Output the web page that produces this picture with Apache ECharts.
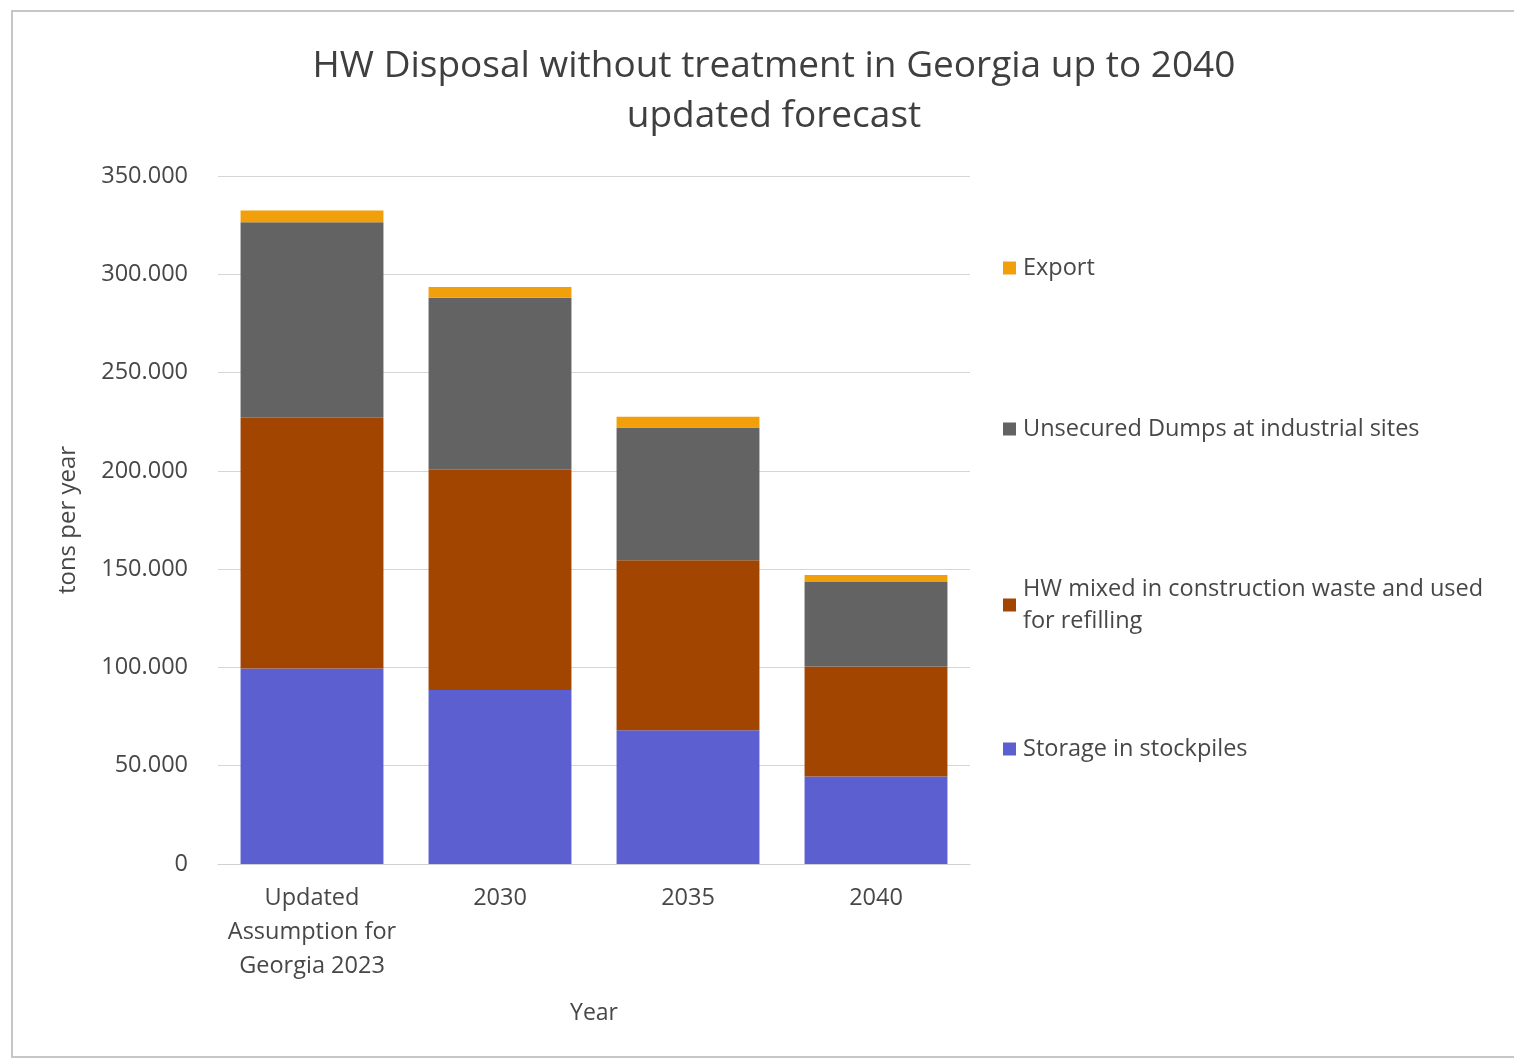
<!DOCTYPE html>
<html>
<head>
<meta charset="utf-8">
<title>HW Disposal without treatment in Georgia up to 2040</title>
<script src="https://cdn.jsdelivr.net/npm/echarts@6/dist/echarts.min.js"></script>
<style>
  html, body { margin: 0; padding: 0; background: #ffffff; }
  #chart { width: 1514px; height: 1061px; }
</style>
</head>
<body>
<div id="chart"></div>
<script>
// Categories on the x axis
const categories = ['Updated\nAssumption for\nGeorgia 2023', '2030', '2035', '2040'];

// Disposal paths, tons per year (stacked bottom to top)
const storageInStockpiles = [99500, 88500, 68000, 44500];
const hwMixedConstruction = [127500, 112000, 86500, 56000];
const unsecuredDumps = [99500, 87500, 67500, 43000];
const exportTons = [6000, 5500, 5500, 3500];

// Value axis ticks
const yTicks = [0, 50000, 100000, 150000, 200000, 250000, 300000, 350000];

const seriesNames = {
  storage: 'Storage in stockpiles',
  mixed: 'HW mixed in construction waste and used for refilling',
  dumps: 'Unsecured Dumps at industrial sites',
  export: 'Export'
};

const colors = {
  storage: '#5b5fd0',
  mixed: '#a14500',
  dumps: '#636363',
  export: '#f19f0a'
};

const FONT = '"Open Sans", "Noto Sans", sans-serif';
const TEXT_COLOR = '#474747';

function fmtThousands(v) {
  if (v === 0) return '0';
  return String(v).replace(/\B(?=(\d{3})+(?!\d))/g, '.');
}

function legendBlock(name, top) {
  return {
    data: [{ name: name, icon: 'rect' }],
    orient: 'vertical',
    left: 998,
    top: top,
    itemWidth: 13,
    itemHeight: 13,
    itemGap: 0,
    selectedMode: false,
    formatter: function (n) {
      return n === seriesNames.mixed
        ? 'HW mixed in construction waste and used\nfor refilling'
        : n;
    },
    textStyle: {
      fontFamily: FONT,
      fontSize: 23.5,
      color: TEXT_COLOR,
      lineHeight: 32,
      padding: [0, 0, 0, 2]
    }
  };
}

const chart = echarts.init(document.getElementById('chart'), null, { renderer: 'canvas' });

function barSeries(name, data, color) {
  return {
    name: name,
    type: 'bar',
    stack: 'total',
    data: data,
    barCategoryGap: '24%',
    itemStyle: { color: color },
    emphasis: { disabled: true }
  };
}

chart.setOption({
  backgroundColor: '#ffffff',
  animation: false,
  title: {
    text: 'HW Disposal without treatment in Georgia up to 2040\nupdated forecast',
    left: 769,
    textAlign: 'center',
    top: 36,
    textStyle: {
      fontFamily: FONT,
      fontSize: 37,
      fontWeight: 'normal',
      color: '#3f3f3f',
      lineHeight: 50
    }
  },
  graphic: [{
    type: 'rect',
    shape: { x: 12, y: 11, width: 1520, height: 1046 },
    style: { fill: 'none', stroke: '#c6c6c6', lineWidth: 2 },
    silent: true,
    z: -10
  }],
  legend: [
    legendBlock(seriesNames.export, 247),
    legendBlock(seriesNames.dumps, 408),
    legendBlock(seriesNames.mixed, 568),
    legendBlock(seriesNames.storage, 728)
  ],
  grid: {
    left: 218,
    right: 544,
    top: 176,
    bottom: 197,
    containLabel: false
  },
  xAxis: {
    type: 'category',
    data: categories,
    name: 'Year',
    nameLocation: 'middle',
    nameGap: 138,
    nameTextStyle: { fontFamily: FONT, fontSize: 23, color: TEXT_COLOR },
    axisTick: { show: false },
    axisLine: { show: true, lineStyle: { color: '#d0d0d0', width: 1 } },
    axisLabel: {
      fontFamily: FONT,
      fontSize: 23.5,
      color: TEXT_COLOR,
      lineHeight: 34,
      margin: 17,
      interval: 0
    }
  },
  yAxis: {
    type: 'value',
    min: yTicks[0],
    max: yTicks[yTicks.length - 1],
    interval: yTicks[1] - yTicks[0],
    name: 'tons per year',
    nameLocation: 'middle',
    nameGap: 138,
    nameRotate: 90,
    nameTextStyle: { fontFamily: FONT, fontSize: 24, color: TEXT_COLOR },
    axisLine: { show: false },
    axisTick: { show: false },
    splitLine: { show: true, lineStyle: { color: '#d6d6d6', width: 1 } },
    axisLabel: {
      fontFamily: FONT,
      fontSize: 23.5,
      color: TEXT_COLOR,
      margin: 30,
      formatter: fmtThousands
    }
  },
  series: [
    barSeries(seriesNames.storage, storageInStockpiles, colors.storage),
    barSeries(seriesNames.mixed, hwMixedConstruction, colors.mixed),
    barSeries(seriesNames.dumps, unsecuredDumps, colors.dumps),
    barSeries(seriesNames.export, exportTons, colors.export)
  ]
});
</script>
</body>
</html>
